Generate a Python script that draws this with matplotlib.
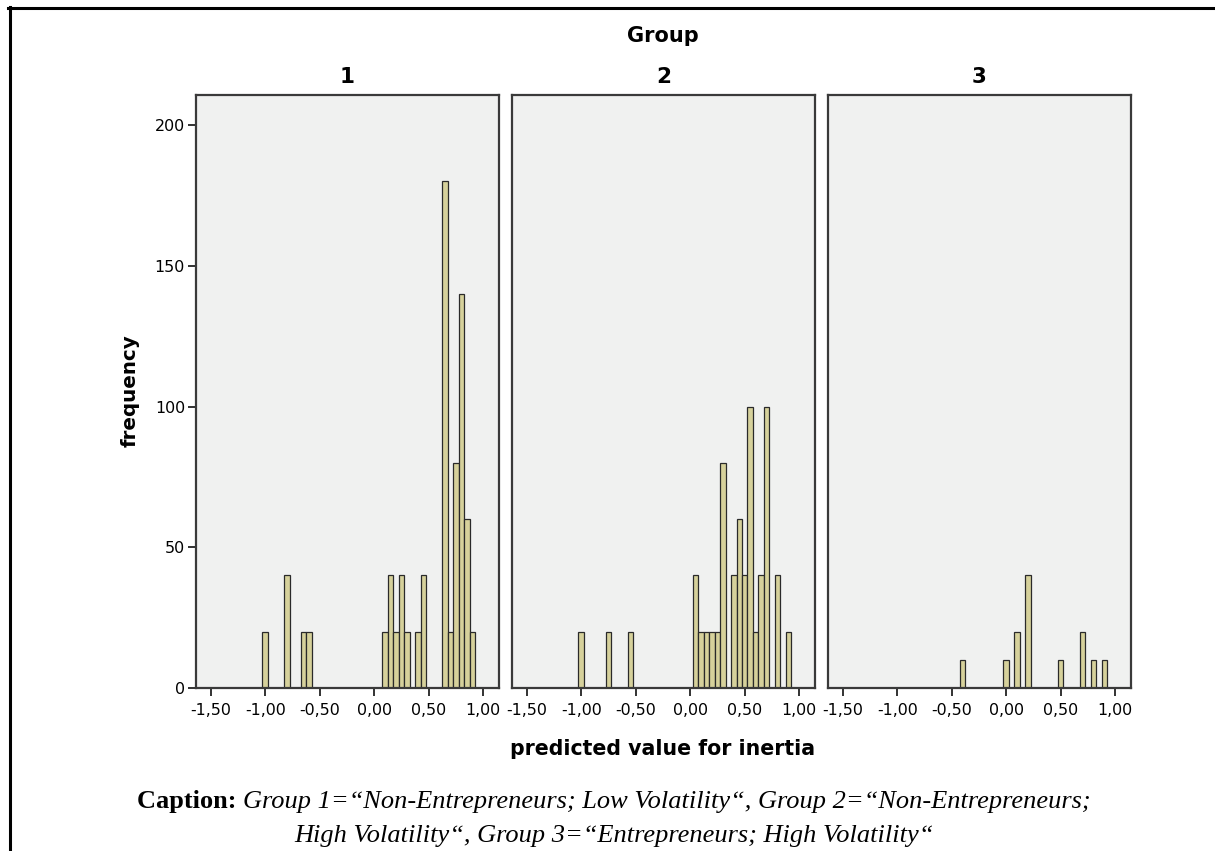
import matplotlib.pyplot as plt
from matplotlib.lines import Line2D

# bin centres (predicted value) and frequencies for each group
g1_values = [-1.00, -0.80, -0.65, -0.60, 0.10, 0.15, 0.20, 0.25, 0.30, 0.40, 0.45,
             0.65, 0.70, 0.75, 0.80, 0.85, 0.90]
g1_counts = [20, 40, 20, 20, 20, 40, 20, 40, 20, 20, 40,
             180, 20, 80, 140, 60, 20]

g2_values = [-1.00, -0.75, -0.55, 0.05, 0.10, 0.15, 0.20, 0.25, 0.30, 0.40, 0.45,
             0.50, 0.55, 0.60, 0.65, 0.70, 0.80, 0.90]
g2_counts = [20, 20, 20, 40, 20, 20, 20, 20, 80, 40, 60,
             40, 100, 20, 40, 100, 40, 20]

g3_values = [-0.40, 0.00, 0.10, 0.20, 0.50, 0.70, 0.80, 0.90]
g3_counts = [10, 10, 20, 40, 10, 20, 10, 10]

groups = ['1', '2', '3']
x_ticks = [-1.5, -1.0, -0.5, 0.0, 0.5, 1.0]
y_ticks = [0, 50, 100, 150, 200]

plt.rcParams['font.family'] = ['DejaVu Sans']

fig = plt.figure(figsize=(12.15, 8.51), dpi=100)

W, H = 1215, 851
lefts = [196, 512, 828]
panel_w = 303
top, bottom = 95, 688

data = [(g1_values, g1_counts), (g2_values, g2_counts), (g3_values, g3_counts)]

for i, (vals, counts) in enumerate(data):
    ax = fig.add_axes([lefts[i] / W, 1 - bottom / H, panel_w / W, (bottom - top) / H])
    ax.set_facecolor('#F0F1F0')
    ax.bar(vals, counts, width=0.05, color='#D6D19B', edgecolor='#2a2a2a', linewidth=0.9)
    ax.set_xlim(-1.635, 1.145)
    ax.set_ylim(0, 210.7)
    ax.set_xticks(x_ticks)
    ax.set_xticklabels([('%.2f' % t).replace('.', ',') for t in x_ticks], fontsize=11.4)
    ax.tick_params(axis='x', direction='out', length=6, width=1.3, color='#222', pad=5)
    if i == 0:
        ax.set_yticks(y_ticks)
        ax.set_yticklabels([str(t) for t in y_ticks], fontsize=11.4)
        ax.tick_params(axis='y', direction='out', length=6, width=1.3, color='#222', pad=2)
    else:
        ax.set_yticks([])
    for s in ax.spines.values():
        s.set_color('#3a3a3a')
        s.set_linewidth(1.6)
    fig.text((lefts[i] + panel_w / 2) / W, 1 - 77 / H, groups[i], ha='center', va='center',
             fontsize=15.5, fontweight='bold')

fig.text(663 / W, 1 - 36 / H, 'Group', ha='center', va='center', fontsize=15, fontweight='bold')
fig.text(130 / W, 1 - 391 / H, 'frequency', ha='center', va='center', rotation=90,
         fontsize=14.3, fontweight='bold')
fig.text(663 / W, 1 - 749 / H, 'predicted value for inertia', ha='center', va='center',
         fontsize=14.8, fontweight='bold')

# caption in serif font, centred under the chart
serif = ['Liberation Serif', 'DejaVu Serif']
cap_size = 19
line1 = "Group 1=\u201cNon-Entrepreneurs; Low Volatility\u201c, Group 2=\u201cNon-Entrepreneurs;"
line2 = "High Volatility\u201c, Group 3=\u201cEntrepreneurs; High Volatility\u201c"
cx = 613.5
t1 = fig.text(0, 1 - 808 / H, 'Caption: ', ha='left', va='baseline', fontsize=cap_size,
              fontweight='bold', family=serif)
t2 = fig.text(0, 1 - 808 / H, line1, ha='left', va='baseline', fontsize=cap_size,
              fontstyle='italic', family=serif)
fig.canvas.draw()
w1 = t1.get_window_extent().width
w2 = t2.get_window_extent().width
x0 = cx - (w1 + w2) / 2
t1.set_x(x0 / W)
t2.set_x((x0 + w1) / W)
fig.text(cx / W, 1 - 842 / H, line2, ha='center', va='baseline', fontsize=cap_size,
         fontstyle='italic', family=serif)

# outer frame lines (top and left)
fig.add_artist(Line2D([8 / W, 1.0], [1 - 8 / H, 1 - 8 / H], color='black', linewidth=2.2,
                      transform=fig.transFigure))
fig.add_artist(Line2D([9.5 / W, 9.5 / W], [1 - 7 / H, 0.0], color='black', linewidth=2.2,
                      transform=fig.transFigure))

fig.savefig('out.png', dpi=100)
